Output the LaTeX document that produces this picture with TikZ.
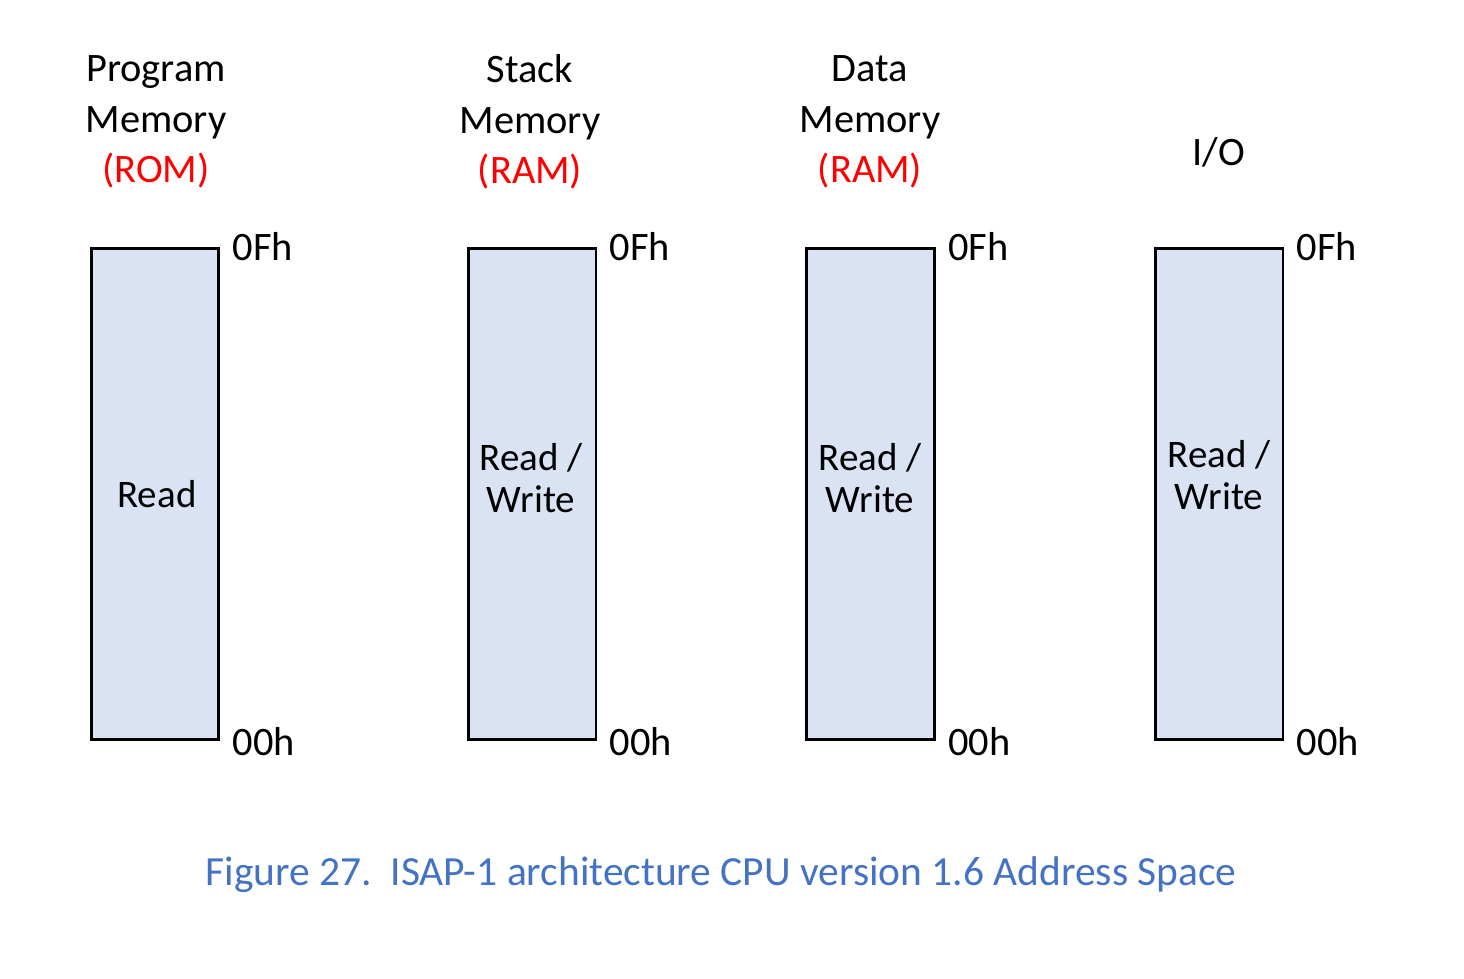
\documentclass[tikz,border=0pt]{standalone}
\usepackage{fontspec}
\setmainfont{Carlito}
\usepackage{tikz}
\usetikzlibrary{positioning}
\definecolor{boxfill}{RGB}{218,227,243}
\definecolor{capblue}{RGB}{68,114,196}
\definecolor{romred}{RGB}{255,0,0}
\tikzset{
	membox/.style={draw=black, line width=1.7pt, fill=boxfill, minimum width=2.56cm, minimum height=9.84cm, inner sep=0pt},
	title/.style={align=center, font=\fontsize{23}{28.9}\selectfont},
	inside/.style={align=center, font=\fontsize{22.2}{23.8}\selectfont},
	addr/.style={anchor=west, inner sep=0pt, font=\fontsize{23}{28}\selectfont}
}

\begin{document}
\begin{tikzpicture}[x=0.02cm, y=-0.02cm]
	\useasboundingbox (0,0) rectangle (1464,979);

	% memory blocks
	\node[membox] (prog) at (155,494) {};
	\node[membox] (stack) at (532,494) {};
	\node[membox] (data) at (870.5,494) {};
	\node[membox] (io) at (1219,494) {};

	% titles
	\node[title] (progT) at (156,122) {Program\\Memory\\\textcolor{romred}{(ROM)}};
	\node[title] (stackT) at (530,122) {Stack\\Memory\\\textcolor{romred}{(RAM)}};
	\node[title] (dataT) at (870,122) {Data\\Memory\\\textcolor{romred}{(RAM)}};
	\node[title] (ioT) at (1219,152) {I/O};

	% access
	\node[inside] (progA) at (157,494) {Read};
	\node[inside] (stackA) at (531,478) {Read /\\Write};
	\node[inside] (dataA) at (870,478) {Read /\\Write};
	\node[inside] (ioA) at (1219,475) {Read /\\Write};

	% addresses
	\foreach \b in {prog,stack,data,io}{
		\node[addr] (\b Top) at ([xshift=0.24cm] \b.north east) {0Fh};
		\node[addr] (\b Bot) at ([xshift=0.24cm] \b.south east) {00h};
	}

	% caption
	\node[font=\fontsize{23.6}{28}\selectfont, text=capblue] (caption) at (721,875) {Figure 27.\ \ ISAP-1 architecture CPU version 1.6 Address Space};
\end{tikzpicture}
\end{document}
